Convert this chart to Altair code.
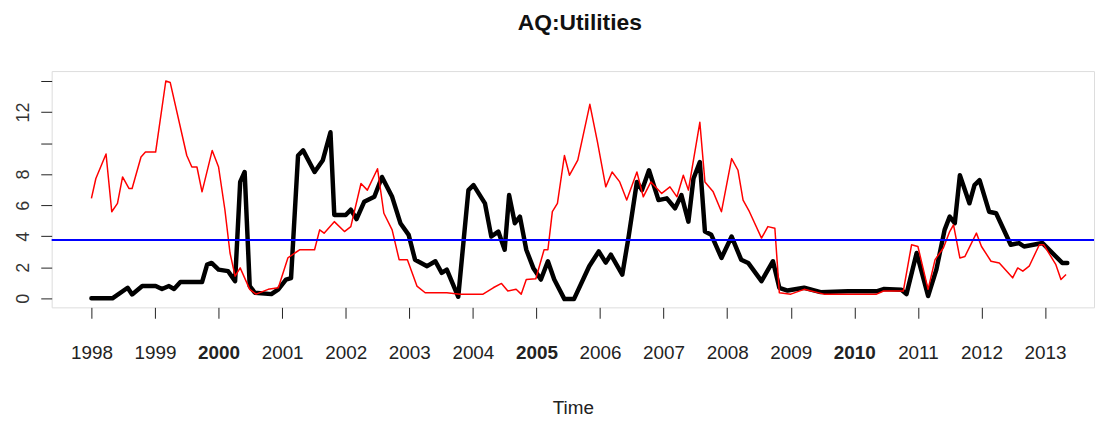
import altair as alt
import pandas as pd

# ---- data ----
black_t = [1998.00, 1998.33, 1998.57, 1998.64, 1998.80, 1999.01, 1999.11, 1999.22, 1999.30, 1999.40,
           1999.74, 1999.82, 1999.89, 2000.00, 2000.15, 2000.26, 2000.34, 2000.41, 2000.49, 2000.57,
           2000.83, 2000.94, 2001.06, 2001.14, 2001.25, 2001.33, 2001.51, 2001.64, 2001.76, 2001.82,
           2002.00, 2002.08, 2002.17, 2002.29, 2002.45, 2002.57, 2002.73, 2002.86, 2002.99, 2003.09,
           2003.28, 2003.41, 2003.51, 2003.59, 2003.77, 2003.93, 2004.01, 2004.19, 2004.29, 2004.40,
           2004.50, 2004.57, 2004.66, 2004.74, 2004.84, 2004.95, 2005.07, 2005.18, 2005.28, 2005.44,
           2005.59, 2005.83, 2005.98, 2006.09, 2006.17, 2006.35, 2006.45, 2006.58, 2006.66, 2006.77,
           2006.92, 2007.05, 2007.18, 2007.28, 2007.39, 2007.47, 2007.57, 2007.65, 2007.75, 2007.91,
           2008.07, 2008.22, 2008.33, 2008.54, 2008.72, 2008.82, 2008.95, 2009.21, 2009.47, 2009.90,
           2010.35, 2010.46, 2010.74, 2010.82, 2010.98, 2011.16, 2011.29, 2011.42, 2011.50, 2011.58,
           2011.66, 2011.81, 2011.89, 2011.97, 2012.12, 2012.23, 2012.46, 2012.59, 2012.67, 2012.96,
           2013.27, 2013.35]
black_v = [0.0, 0.0, 0.68, 0.25, 0.79, 0.79, 0.6, 0.79, 0.6, 1.05,
           1.05, 2.17, 2.28, 1.85, 1.75, 1.11, 7.5, 8.14, 0.79, 0.36,
           0.27, 0.58, 1.21, 1.3, 9.2, 9.53, 8.14, 8.9, 10.7, 5.37,
           5.37, 5.71, 5.1, 6.22, 6.54, 7.82, 6.54, 4.84, 4.09, 2.49,
           2.07, 2.39, 1.64, 1.85, 0.1, 6.97, 7.29, 6.12, 3.98, 4.3,
           3.13, 6.65, 4.84, 5.26, 3.13, 1.96, 1.21, 2.39, 1.21, -0.05,
           -0.05, 2.07, 3.02, 2.3, 2.81, 1.53, 3.98, 7.5, 6.97, 8.25,
           6.33, 6.44, 5.8, 6.65, 4.94, 7.72, 8.78, 4.3, 4.09, 2.6,
           3.98, 2.49, 2.28, 1.11, 2.39, 0.68, 0.5, 0.68, 0.4, 0.45,
           0.45, 0.6, 0.55, 0.27, 2.92, 0.15, 1.85, 4.41, 5.26, 4.84,
           7.93, 6.12, 7.29, 7.61, 5.58, 5.48, 3.45, 3.56, 3.34, 3.56,
           2.28, 2.28]

red_t = [1998.00, 1998.07, 1998.23, 1998.32, 1998.41, 1998.49, 1998.59, 1998.64, 1998.78, 1998.85,
         1999.01, 1999.17, 1999.24, 1999.50, 1999.58, 1999.66, 1999.74, 1999.90, 2000.00, 2000.10,
         2000.18, 2000.26, 2000.34, 2000.49, 2000.59, 2000.78, 2000.94, 2001.09, 2001.20, 2001.28,
         2001.51, 2001.59, 2001.66, 2001.82, 2001.98, 2002.08, 2002.24, 2002.34, 2002.50, 2002.60,
         2002.73, 2002.84, 2002.97, 2003.12, 2003.25, 2003.59, 2003.80, 2004.16, 2004.32, 2004.45,
         2004.55, 2004.68, 2004.76, 2004.84, 2004.99, 2005.12, 2005.18, 2005.25, 2005.33, 2005.44,
         2005.52, 2005.65, 2005.84, 2005.96, 2006.09, 2006.19, 2006.31, 2006.42, 2006.58, 2006.68,
         2006.80, 2006.97, 2007.10, 2007.21, 2007.31, 2007.39, 2007.57, 2007.65, 2007.78, 2007.91,
         2008.07, 2008.17, 2008.25, 2008.35, 2008.54, 2008.64, 2008.75, 2008.82, 2009.00, 2009.21,
         2009.52, 2010.35, 2010.46, 2010.77, 2010.90, 2011.00, 2011.16, 2011.27, 2011.40, 2011.50,
         2011.56, 2011.66, 2011.74, 2011.92, 2012.00, 2012.15, 2012.28, 2012.49, 2012.57, 2012.65,
         2012.75, 2012.91, 2012.98, 2013.17, 2013.25, 2013.33]
red_v = [6.44, 7.72, 9.3, 5.58, 6.12, 7.82, 7.08, 7.08, 9.1, 9.42,
         9.42, 14.0, 13.9, 9.2, 8.46, 8.46, 6.86, 9.53, 8.46, 5.69,
         2.92, 1.43, 1.96, 0.58, 0.27, 0.58, 0.68, 2.6, 2.92, 3.13,
         3.13, 4.41, 4.2, 4.94, 4.3, 4.62, 7.4, 6.97, 8.35, 5.48,
         4.41, 2.49, 2.49, 0.79, 0.36, 0.36, 0.27, 0.27, 0.68, 0.96,
         0.47, 0.58, 0.27, 1.21, 1.26, 3.13, 3.13, 5.58, 6.12, 9.2,
         7.93, 8.9, 12.5, 10.06, 7.18, 8.14, 7.5, 6.33, 8.14, 6.54,
         7.5, 6.76, 7.18, 6.54, 7.93, 6.97, 11.34, 7.5, 6.86, 5.58,
         9.0, 8.25, 6.33, 5.58, 3.88, 4.62, 4.51, 0.36, 0.27, 0.58,
         0.27, 0.27, 0.47, 0.47, 3.45, 3.34, 0.58, 2.49, 3.24, 4.3,
         4.73, 2.6, 2.7, 4.2, 3.34, 2.39, 2.28, 1.32, 1.96, 1.75,
         2.07, 3.45, 3.45, 2.17, 1.21, 1.53]

hline_value = [3.75]
x_tick_years = list(range(1998, 2014))
y_tick_values = [0, 2, 4, 6, 8, 10, 12, 14]
title_text = "AQ:Utilities"
x_title = "Time"

black_df = pd.DataFrame({"t": black_t, "v": black_v})
red_df = pd.DataFrame({"t": red_t, "v": red_v})
hline_df = pd.DataFrame({"v": hline_value})

LABEL_FONT = "Liberation Sans, Arial"

x_scale = alt.Scale(domain=[1997.375, 2013.77], nice=False, zero=False)
y_scale = alt.Scale(domain=[-0.58, 14.64], nice=False, zero=False)

x_axis = alt.Axis(
    values=x_tick_years, format="d", title=x_title, grid=False, domain=False,
    tickSize=11, tickColor="#222", tickWidth=1,
    labelFont=LABEL_FONT, labelFontSize=19, labelColor="#222", labelPadding=26,
    labelFontWeight={"expr": "datum.value % 5 == 0 ? 'bold' : 'normal'"},
    labelOverlap=False, labelFlush=False,
    titleFont=LABEL_FONT, titleFontSize=19, titleFontWeight="normal",
    titleColor="#222", titlePadding=36,
)
y_axis = alt.Axis(
    values=y_tick_values, title=None, grid=False, domain=False,
    tickSize=11, tickColor="#222", tickWidth=1,
    labelFont=LABEL_FONT, labelFontSize=18, labelColor="#333",
    labelAngle=270, labelAlign="center", labelBaseline="middle", labelPadding=17,
    labelOverlap=False, labelFlush=False,
    labelExpr="(datum.value == 10 || datum.value == 14) ? '' : datum.label",
)

x_enc = alt.X("t:Q", scale=x_scale, axis=x_axis)
y_enc = alt.Y("v:Q", scale=y_scale, axis=y_axis)

black_line = alt.Chart(black_df).mark_line(
    color="black", strokeWidth=4.5, strokeJoin="round", strokeCap="round", clip=True
).encode(x=x_enc, y=y_enc)

red_line = alt.Chart(red_df).mark_line(
    color="#ff0000", strokeWidth=1.5, strokeJoin="round", clip=True
).encode(x=x_enc, y=y_enc)

blue_rule = alt.Chart(hline_df).mark_rule(color="#0000ff", strokeWidth=2).encode(y=y_enc)

chart = alt.layer(black_line, red_line, blue_rule).properties(
    width=1050,
    height=238,
    title=alt.TitleParams(
        text=title_text, fontSize=23, fontWeight="bold",
        font="Liberation Sans, Arial", color="#111",
        anchor="middle", offset=36, dx=7,
    ),
    autosize=alt.AutoSizeParams(type="none"),
    padding={"left": 44, "top": 62, "right": 3, "bottom": 117},
).configure_view(
    stroke="#222", strokeWidth=2
).configure(background="white")

chart.save("out.html", embed_options={"renderer": "svg", "actions": False})
